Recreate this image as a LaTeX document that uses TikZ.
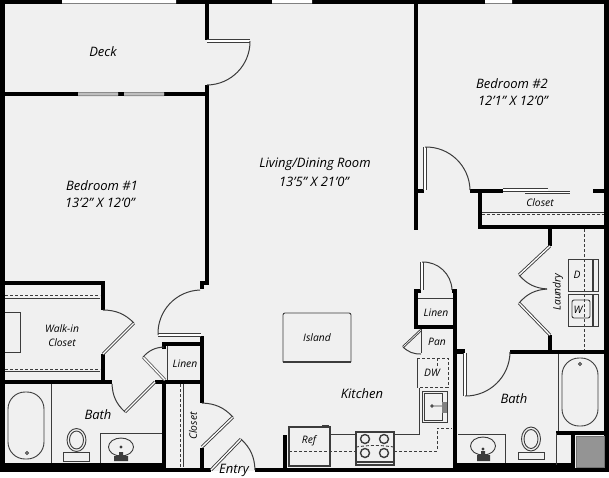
\documentclass[tikz,border=0pt]{standalone}
\usepackage{fontspec}
\setmainfont{Open Sans}
\definecolor{floorgray}{HTML}{F0F0F0}
\definecolor{linegray}{HTML}{3C3C3C}
\tikzset{
    wall/.style = {draw = black, line width = 4.3pt},
    thinline/.style = {draw = linegray, line width = .9pt},
    dashline/.style = {draw = linegray, line width = .9pt, dash pattern = on 3pt off 2pt},
    swing/.style = {draw = linegray, line width = 1pt},
    leaf/.style = {draw = linegray, line width = .9pt, double = white, double distance = 1.3pt},
    pane/.style = {draw = gray, line width = 1.2pt},
    roomtext/.style = {font = \itshape\fontsize{13}{15}\selectfont, text = black, inner sep = 0pt},
    smalltext/.style = {font = \itshape\fontsize{10.3}{12}\selectfont, text = black, inner sep = 0pt}
}
\begin{document}
\begin{tikzpicture}
    [
        x = 1pt, y = -1pt
    ]
    \useasboundingbox (0,0) rectangle (609,477);
    \fill [floorgray] (0,0) rectangle (607,471);

    \fill [black] (0,463) rectangle (166,472);
    \fill [black] (456,463) rectangle (573,472);
    \fill [black] (166,468) rectangle (211,472);
    \fill [black] (255,468) rectangle (608,472);
    \draw [wall] (2.5,0) -- (2.5,472);
    \draw [wall] (606.5,0) -- (606.5,472);
    \draw [wall] (0,2) -- (62,2) (176,2) -- (272,2) (312,2) -- (485,2) (512,2) -- (609,2);
    \draw [wall] (0,94) -- (78,94) (118,94) -- (124,94) (164,94) -- (209,94);
    \draw [wall] (207,0) -- (207,40) (207,85) -- (207,283) -- (202,283) -- (202,289);
    \draw [wall] (3,283) -- (103,283) -- (103,310) (103,354) -- (103,384) (0,382) -- (112,382);
    \draw [wall] (155,382) -- (204,382) (202,336) -- (202,403) (202,448) -- (202,470);
    \draw [wall] (164,349) -- (164,344) -- (202,344) (164,380) -- (164,465);
    \draw [wall] (285,435) -- (285,470);
    \draw [wall] (416,0) -- (416,230) (416,191) -- (424,191);
    \draw [wall] (470,191) -- (503,191) (593,191) -- (609,191);
    \draw [wall] (480,191) -- (480,227) -- (609,227) (550,227) -- (550,246) (550,335) -- (550,352);
    \draw [wall] (421,291) -- (416,291) -- (416,327) -- (455,327) (452,291) -- (455,291) -- (455,472);
    \draw [wall] (455,351.5) -- (465,351.5) (510,352) -- (609,352);
    \draw [wall] (556,433) -- (606,433) (573,433) -- (573,470);

    \fill [white] (0,472) rectangle (609,477);
    \fill [black!42, draw = black!55] (576,436) rectangle (604,467);

    \fill [white] (62,0) rectangle (176,3.5) (272,0) rectangle (312,3.5) (485,0) rectangle (512,3.5);
    \draw [pane] (62,3.5) -- (176,3.5) (272,3.5) -- (312,3.5) (485,3.5) -- (512,3.5);
    \fill [black!45] (78,92) rectangle (118,96) (124,92) rectangle (164,96);
    \fill [black!25] (78,93) rectangle (118,95) (124,93) rectangle (164,95);
    \draw [leaf] (503,190) -- (548,190);
    \draw [leaf] (525,192.5) -- (570,192.5);

    \draw [leaf] (207,41) -- (250,41);
    \draw [swing] (250,41) to [bend left = 45] (207,85);
    \draw [leaf] (158,335) -- (201,335);
    \draw [swing] (158,335) to [bend left = 45] (200,290);
    \draw [leaf] (134,323) -- (103,354);
    \draw [swing] (103,310) to [bend left = 22] (134,323);
    \draw [leaf] (125,412) -- (155,382);
    \draw [swing] (112,384) to [bend right = 22] (125,412);
    \draw [leaf] (233,417) -- (202,447);
    \draw [swing] (202,403) to [bend left = 22] (233,417);
    \draw [leaf] (211,470) -- (241,439);
    \draw [swing] (241,439) to [bend left = 22] (255,470);
    \draw [leaf, draw = black!60] (143,357) -- (165,380);
    \draw [swing] (164,347) to [bend right = 22] (143,357);
    \draw [leaf] (425,147) -- (425,190);
    \draw [swing] (425,147) to [bend left = 45] (470,190);
    \draw [leaf] (422,262) -- (422,290);
    \draw [swing] (422,262) to [bend left = 45] (452,290);
    \draw [leaf, double distance = .6pt] (421,330) -- (403,347);
    \draw [swing] (403,347) to [bend right = 22] (421,354);
    \draw [leaf] (465,353) -- (465,396);
    \draw [swing] (465,396) to [bend right = 45] (510,352);
    \draw [leaf] (550,335) -- (519,303);
    \draw [swing] (519,303) to [bend left = 22] (547,289);
    \draw [leaf] (550,246) -- (519,275);
    \draw [swing] (519,275) to [bend right = 22] (547,289);

    \draw [dashline] (5,295) -- (100,295) (5,369) -- (100,369);
    \draw [thinline] (5,298) -- (100,298) (5,371.5) -- (100,371.5);
    \draw [thinline] (5,312) -- (20.5,312) -- (20.5,352) -- (5,352);
    \draw [dashline] (180.5,384) -- (180.5,467);
    \draw [thinline] (183,384) -- (183,467);
    \draw [thinline] (482,212) -- (604,212);
    \draw [dashline] (482,214.5) -- (604,214.5);
    \draw [thinline] (167,346) -- (167,380) (418,298) -- (453,298) (421,329) -- (421,353);

    \draw [thinline] (51,384) -- (51,463);
    \draw [thinline, rounded corners = 17pt] (8,392) rectangle (44,459);
    \draw [thinline] (27,453) circle (1.5);
    \draw [thinline] (63,452) rectangle (89,461);
    \draw [thinline] (76.5,440) ellipse (9.5 and 11.5) (76.5,440) ellipse (7 and 9);
    \draw [thinline] (100,463) -- (100,433.5) -- (162,433.5);
    \draw [thinline] (121,447) ellipse (12.5 and 9) (121,447) circle (1);
    \fill [linegray] (114,456) rectangle (128,461) (119,452) rectangle (123,456);

    \draw [thinline, rounded corners = 2pt] (283,362) -- (283,313) -- (351,313) -- (351,362);
    \draw [thinline, line width = 1.6pt] (283,362) -- (351,362);
    \draw [thinline, line width = 1.2pt] (289,427) rectangle (330,466);
    \draw [thinline] (322,427) rectangle (328,425);
    \draw [thinline] (330,434) -- (356,434) (394,434) -- (419,434) -- (419,388);
    \draw [thinline, line width = 1.2pt] (356,432) rectangle (394,465);
    \draw [thinline, line width = 2pt] (356,462) -- (394,462);
    \foreach \burnerx in {365,384}
        \foreach \burnery in {439,453}
            \draw [thinline, line width = 1.4pt] (\burnerx,\burnery) circle (4.5);
    \draw [dashline] (289,451) -- (356,451) (394,451) -- (437,451) -- (437,428) -- (452,428);
    \draw [dashline] (356,447) to [bend left = 8] (394,447);
    \draw [thinline] (417,387) -- (417,358);
    \draw [dashline] (417,358) -- (448,358) -- (448,387) -- (417,387) (437,358) -- (437,368);
    \draw [thinline, line width = 1pt] (422,391) rectangle (447,422);
    \draw [thinline] (424,393) rectangle (442,420);
    \draw [thinline] (432,406) circle (1.2) (433,406) -- (446,406);
    \fill [gray] (442,402) rectangle (447,413);

    \draw [dashline] (584,229) -- (584,350);
    \draw [thinline] (568,259) rectangle (598,291) (568,294) rectangle (598,326);
    \draw [thinline, line width = 1.2pt] (593,259) -- (593,291) (593,294) -- (593,326);
    \draw [thinline, rounded corners = 2pt] (572,300) rectangle (590,318);

    \draw [thinline] (558,354) -- (558,431) (556,433) -- (556,465);
    \draw [thinline, rounded corners = 17pt] (562,358) rectangle (598,426);
    \draw [thinline] (580,364) circle (1.5);
    \draw [thinline] (518,452) rectangle (544,459.5);
    \draw [thinline] (531,439) ellipse (9.5 and 12) (531,439) ellipse (7 and 9.5);
    \draw [thinline] (458,434) -- (505,434) -- (505,463);
    \draw [thinline] (483,446) ellipse (12.5 and 9) (483,449) circle (1);
    \fill [linegray] (477,455) rectangle (490,461) (481,451) rectangle (485,455);

    \node [roomtext] (deck) at (103,52) {Deck};
    \node [roomtext] (bedroomtwo) at (512,84) {Bedroom \#2};
    \node [roomtext] (bedroomtwosize) at (513,101) {12'1" X 12'0"};
    \node [roomtext] (living) at (315,164) {Living/Dining Room};
    \node [roomtext] (livingsize) at (314,182) {13'5" X 21'0"};
    \node [roomtext] (bedroomone) at (102,186) {Bedroom \#1};
    \node [roomtext] (bedroomonesize) at (100,203) {13'2" X 12'0"};
    \node [smalltext] (walkin) at (62,329) {Walk-in};
    \node [smalltext] (walkcloset) at (62,343) {Closet};
    \node [roomtext] (bathone) at (98,415) {Bath};
    \node [smalltext] (linenone) at (185,364) {Linen};
    \node [smalltext, rotate = 90] (closetone) at (193,426) {Closet};
    \node [roomtext] (entry) at (234,470) {Entry};
    \node [smalltext] (island) at (317,338) {Island};
    \node [roomtext] (kitchen) at (362,394) {Kitchen};
    \node [smalltext] (ref) at (309,441) {Ref};
    \node [smalltext] (pan) at (437,342) {Pan};
    \node [smalltext] (dw) at (432,373) {DW};
    \node [smalltext] (linentwo) at (436,313) {Linen};
    \node [smalltext] (closettwo) at (540,203) {Closet};
    \node [smalltext, rotate = 90] (laundry) at (558,292) {Laundry};
    \node [smalltext] (dryer) at (577,275) {D};
    \node [smalltext] (washer) at (578,310) {W};
    \node [roomtext] (bathtwo) at (514,399) {Bath};
\end{tikzpicture}
\end{document}
